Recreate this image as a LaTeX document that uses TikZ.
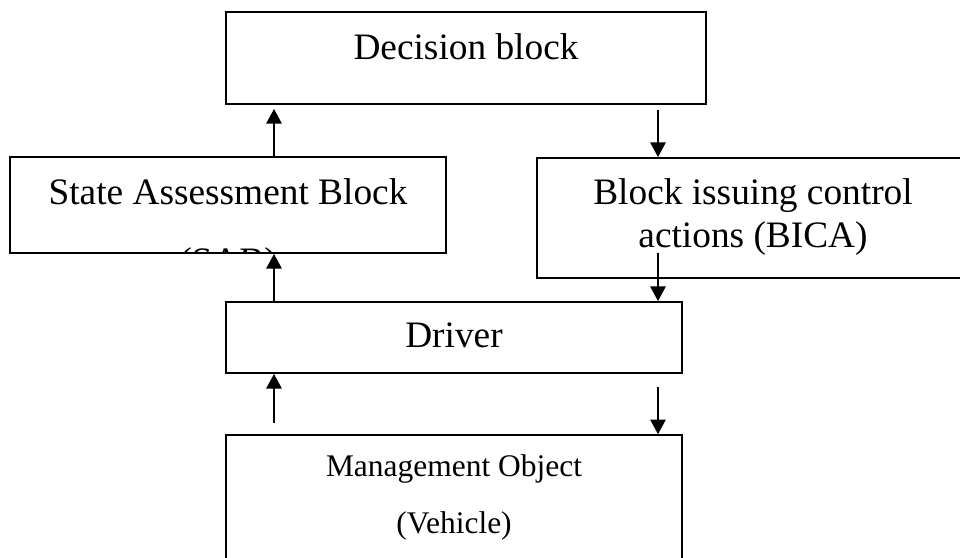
\documentclass[tikz,border=0pt]{standalone}
\usepackage{fontspec}
\setmainfont{Liberation Serif}
\usepackage{tikz}
\usetikzlibrary{shapes.geometric, arrows, arrows.meta}
\usetikzlibrary{calc,positioning}

\tikzset{
  blk/.style={draw, line width=1.4pt, rectangle, inner sep=0pt},
  lbl/.style={anchor=base, inner sep=0pt, font=\fontsize{28}{34}\selectfont},
  lblsmall/.style={anchor=base, inner sep=0pt, font=\fontsize{23.6}{28}\selectfont},
  flow/.style={-{Triangle[width=11.5pt,length=11pt]}, line width=1.4pt}
}

\begin{document}
\begin{tikzpicture}[x=0.75pt, y=-0.75pt]

    \useasboundingbox (0,0) rectangle (960,557);
    \clip (0,0) rectangle (960,557);

    % Blocks
    \node[blk, minimum width=360pt, minimum height=69pt] (dec) at (466,58) {};
    \node[blk, minimum width=327pt, minimum height=72pt] (sab) at (228,205) {};
    \node[blk, minimum width=324pt, minimum height=90pt] (bica) at (753,218) {};
    \node[blk, minimum width=342pt, minimum height=53.25pt] (drv) at (454,337.5) {};
    \node[blk, minimum width=342pt, minimum height=116pt] (mgmt) at (454,512.5) {};

    % Texts
    \node[lbl] (dectxt) at (466,59) {Decision block};
    \node[lbl] (sabtxt) at (228,204) {State Assessment Block};
    \begin{scope}
      \clip (sab.south west) rectangle (sab.north east);
      \node[lbl] (sababbr) at (228,273) {(SAB)};
    \end{scope}
    \node[lbl] (bicatxt) at (753,204) {Block issuing control};
    \node[lbl] (bicaabbr) at (753,247) {actions (BICA)};
    \node[lbl] (drvtxt) at (454,347) {Driver};
    \node[lblsmall] (mgmttxt) at (454,476) {Management Object};
    \node[lblsmall] (mgmtveh) at (454,533) {(Vehicle)};

    % Columns
    \coordinate (lc) at (274,0);
    \coordinate (rc) at (658,0);
    \coordinate (bicaout) at (658,253);
    \coordinate (mgmtout) at (274,423);
    \coordinate (drvout) at (658,387);

    % Arrows
    \draw[flow, shorten >=3pt] (sab.north -| lc) -- (dec.south -| lc);
    \draw[flow, shorten <=4pt] (dec.south -| rc) -- (bica.north -| rc);
    \draw[flow] (drv.north -| lc) -- (sab.south -| lc);
    \draw[flow] (bicaout) -- (drv.north -| rc);
    \draw[flow] (mgmtout) -- (drv.south -| lc);
    \draw[flow] (drvout) -- (mgmt.north -| rc);
\end{tikzpicture}
\end{document}
